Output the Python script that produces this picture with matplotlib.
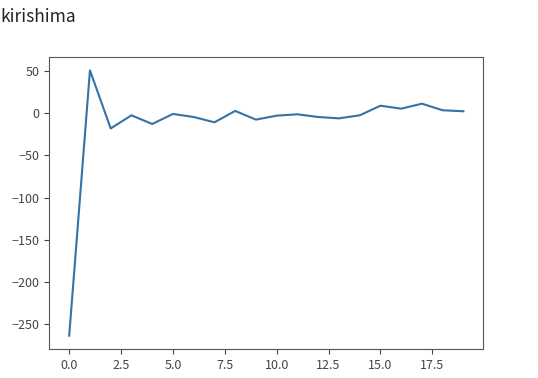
import matplotlib
matplotlib.use("Agg")
import matplotlib.pyplot as plt

plt.rcParams['font.family'] = ['Noto Sans CJK JP', 'DejaVu Sans']

# values
steps = list(range(20))
values = [-264, 51, -18, -2.4, -12.7, -0.8, -4.4, -10.7, 2.8, -7.5,
          -2.8, -1.2, -4.4, -6, -2.4, 9, 5.5, 11.4, 3.6, 2.4]
title = "kirishima"

fig = plt.figure(figsize=(5.38, 3.78), dpi=100)
ax = fig.add_axes([0.092, 0.077, 0.806, 0.772])
ax.plot(steps, values, color='#3473a8', linewidth=1.5)

for s in ax.spines.values():
    s.set_color('#555555')
ax.tick_params(labelsize=9, colors='#444444')

fig.text(0.0, 0.943, title, fontsize=12.5, color='#222222')

fig.savefig("out.png", dpi=100)
